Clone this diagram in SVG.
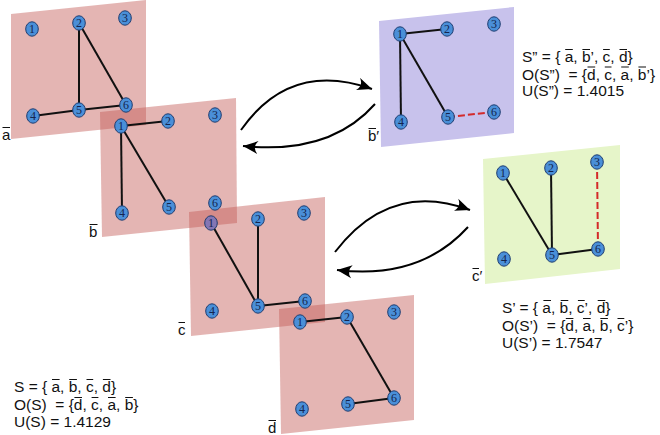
<svg xmlns="http://www.w3.org/2000/svg" width="660" height="435" viewBox="0 0 660 435">
<style>
.pan{fill:rgb(196,92,86);fill-opacity:0.45}
.e{stroke:#111;stroke-width:2;fill:none}
.rd{stroke:#d42a2a;stroke-width:2;stroke-dasharray:7 3;fill:none}
.v ellipse{fill:#4a8fd8;stroke:#1d3c70;stroke-width:1}
.v text{font-family:"Liberation Serif","DejaVu Serif",serif;font-size:12px;fill:#14254f;text-anchor:middle}
.t{font-family:"Liberation Sans",Arial,sans-serif;font-size:15.5px;fill:#111}
.lb{font-family:"Liberation Sans","DejaVu Sans",sans-serif;font-size:15px;fill:#111}
.ol{stroke:#111;stroke-width:1.1;fill:none}
.arr{stroke:#000;stroke-width:2;fill:none;marker-end:url(#ah)}
</style>
<defs>
<marker id="ah" viewBox="-15 -7 16 14" refX="0" refY="0" markerWidth="16" markerHeight="14" orient="auto" markerUnits="userSpaceOnUse">
<path d="M0,0 L-15,-6.5 Q-9,0 -15,6.5 Z" fill="#000"/>
</marker>
</defs>

<g id="panels">
<g id="panel-a"><polygon class="pan" points="11,14 146,0 146,125 11,139"/></g>
<g id="panel-b"><polygon class="pan" points="100,112 236,98 237,223 102,237"/></g>
<g id="panel-c"><polygon class="pan" points="189,212 325,197 325,322 191,336"/></g>
<g id="panel-d"><polygon class="pan" points="279,309 414,295 414,420 281,434"/></g>
<g id="panel-b2"><polygon fill="#c8c2ec" points="379,21 514,7 514,133 381,147"/></g>
<g id="panel-c2"><polygon fill="#e6f5c9" points="483,159 620,145 620,269 485,284"/></g>
</g>

<g id="connectors">
<line class="e" x1="79" y1="23" x2="79" y2="110"/>
<line class="e" x1="79" y1="23" x2="126" y2="105"/>
<line class="e" x1="33" y1="116" x2="79" y2="110"/>
<line class="e" x1="79" y1="110" x2="126" y2="105"/>
<line class="e" x1="121" y1="126" x2="168" y2="121"/>
<line class="e" x1="121" y1="126" x2="122" y2="213"/>
<line class="e" x1="121" y1="126" x2="169" y2="207"/>
<line class="e" x1="211" y1="223" x2="258" y2="306"/>
<line class="e" x1="258" y1="219" x2="258" y2="306"/>
<line class="e" x1="258" y1="306" x2="305" y2="301"/>
<line class="e" x1="300" y1="322" x2="347" y2="317"/>
<line class="e" x1="347" y1="317" x2="394" y2="398"/>
<line class="e" x1="348" y1="404" x2="394" y2="398"/>
<line class="e" x1="400" y1="34" x2="447" y2="29"/>
<line class="e" x1="400" y1="34" x2="401" y2="122"/>
<line class="e" x1="400" y1="34" x2="448" y2="117"/>
<line class="rd" x1="448" y1="117" x2="494" y2="112"/>
<line class="e" x1="503" y1="173" x2="552" y2="255"/>
<line class="e" x1="551" y1="168" x2="552" y2="255"/>
<line class="e" x1="552" y1="255" x2="598" y2="249"/>
<line class="rd" x1="597" y1="162" x2="598" y2="249"/>
<path class="arr" d="M241,130 Q290,60 372,89"/>
<path class="arr" d="M375,104 Q330,155 243,146"/>
<path class="arr" d="M335,252 Q390,180 470,210"/>
<path class="arr" d="M468,227 Q420,280 337,270"/>
</g>

<g id="graph-a">
<g id="a1" class="v"><ellipse cx="32" cy="29" rx="6.3" ry="7.2"/><text x="32" y="33.2">1</text></g>
<g id="a2" class="v"><ellipse cx="79" cy="23" rx="6.3" ry="7.2"/><text x="79" y="27.2">2</text></g>
<g id="a3" class="v"><ellipse cx="125" cy="18" rx="6.3" ry="7.2"/><text x="125" y="22.2">3</text></g>
<g id="a4" class="v"><ellipse cx="33" cy="116" rx="6.3" ry="7.2"/><text x="33" y="120.2">4</text></g>
<g id="a5" class="v"><ellipse cx="79" cy="110" rx="6.3" ry="7.2"/><text x="79" y="114.2">5</text></g>
<g id="a6" class="v"><ellipse cx="126" cy="105" rx="6.3" ry="7.2"/><text x="126" y="109.2">6</text></g>
</g>
<g id="graph-b">
<g id="b1" class="v"><ellipse cx="121" cy="126" rx="6.3" ry="7.2"/><text x="121" y="130.2">1</text></g>
<g id="b2" class="v"><ellipse cx="168" cy="121" rx="6.3" ry="7.2"/><text x="168" y="125.2">2</text></g>
<g id="b3" class="v"><ellipse cx="215" cy="115" rx="6.3" ry="7.2"/><text x="215" y="119.2">3</text></g>
<g id="b4" class="v"><ellipse cx="122" cy="213" rx="6.3" ry="7.2"/><text x="122" y="217.2">4</text></g>
<g id="b5" class="v"><ellipse cx="169" cy="207" rx="6.3" ry="7.2"/><text x="169" y="211.2">5</text></g>
<g id="b6" class="v"><ellipse cx="215" cy="203" rx="6.3" ry="7.2"/><text x="215" y="207.2">6</text></g>
</g>
<g id="graph-c">
<g id="c1" class="v"><ellipse cx="211" cy="223" rx="6.3" ry="7.2" style="fill:#8476b4"/><text x="211" y="227.2">1</text></g>
<g id="c2" class="v"><ellipse cx="258" cy="219" rx="6.3" ry="7.2"/><text x="258" y="223.2">2</text></g>
<g id="c3" class="v"><ellipse cx="304" cy="213" rx="6.3" ry="7.2"/><text x="304" y="217.2">3</text></g>
<g id="c4" class="v"><ellipse cx="212" cy="311" rx="6.3" ry="7.2"/><text x="212" y="315.2">4</text></g>
<g id="c5" class="v"><ellipse cx="258" cy="306" rx="6.3" ry="7.2"/><text x="258" y="310.2">5</text></g>
<g id="c6" class="v"><ellipse cx="305" cy="301" rx="6.3" ry="7.2"/><text x="305" y="305.2">6</text></g>
</g>
<g id="graph-d">
<g id="d1" class="v"><ellipse cx="300" cy="322" rx="6.3" ry="7.2"/><text x="300" y="326.2">1</text></g>
<g id="d2" class="v"><ellipse cx="347" cy="317" rx="6.3" ry="7.2"/><text x="347" y="321.2">2</text></g>
<g id="d3" class="v"><ellipse cx="394" cy="312" rx="6.3" ry="7.2"/><text x="394" y="316.2">3</text></g>
<g id="d4" class="v"><ellipse cx="302" cy="409" rx="6.3" ry="7.2"/><text x="302" y="413.2">4</text></g>
<g id="d5" class="v"><ellipse cx="348" cy="404" rx="6.3" ry="7.2"/><text x="348" y="408.2">5</text></g>
<g id="d6" class="v"><ellipse cx="394" cy="398" rx="6.3" ry="7.2"/><text x="394" y="402.2">6</text></g>
</g>
<g id="graph-b2">
<g id="bp1" class="v"><ellipse cx="400" cy="34" rx="6.3" ry="7.2"/><text x="400" y="38.2">1</text></g>
<g id="bp2" class="v"><ellipse cx="447" cy="29" rx="6.3" ry="7.2"/><text x="447" y="33.2">2</text></g>
<g id="bp3" class="v"><ellipse cx="494" cy="24" rx="6.3" ry="7.2"/><text x="494" y="28.2">3</text></g>
<g id="bp4" class="v"><ellipse cx="401" cy="122" rx="6.3" ry="7.2"/><text x="401" y="126.2">4</text></g>
<g id="bp5" class="v"><ellipse cx="448" cy="117" rx="6.3" ry="7.2"/><text x="448" y="121.2">5</text></g>
<g id="bp6" class="v"><ellipse cx="494" cy="112" rx="6.3" ry="7.2"/><text x="494" y="116.2">6</text></g>
</g>
<g id="graph-c2">
<g id="cp1" class="v"><ellipse cx="503" cy="173" rx="6.3" ry="7.2"/><text x="503" y="177.2">1</text></g>
<g id="cp2" class="v"><ellipse cx="551" cy="168" rx="6.3" ry="7.2"/><text x="551" y="172.2">2</text></g>
<g id="cp3" class="v"><ellipse cx="597" cy="162" rx="6.3" ry="7.2"/><text x="597" y="166.2">3</text></g>
<g id="cp4" class="v"><ellipse cx="504" cy="259" rx="6.3" ry="7.2"/><text x="504" y="263.2">4</text></g>
<g id="cp5" class="v"><ellipse cx="552" cy="255" rx="6.3" ry="7.2"/><text x="552" y="259.2">5</text></g>
<g id="cp6" class="v"><ellipse cx="598" cy="249" rx="6.3" ry="7.2"/><text x="598" y="253.2">6</text></g>
</g>

<g id="labels">
<text class="lb" x="2" y="140">a</text>
<text class="lb" x="89" y="237">b</text>
<text class="lb" x="178" y="335">c</text>
<text class="lb" x="268" y="433">d</text>
<text class="lb" x="368" y="141">b′</text>
<text class="lb" x="472" y="281">c′</text>
<path class="ol" d="M2.5,127.5H10 M89.5,224.5H97.5 M178.5,322.5H185 M268.5,420.5H276 M368.5,128.5H376 M472.5,268.5H479"/>
</g>

<g id="text-s2">
<text class="t" x="522" y="62" xml:space="preserve">S” = { a, b’, c, d}</text>
<text class="t" x="522" y="79.5" xml:space="preserve">O(S”)  = {d, c, a, b’}</text>
<text class="t" x="522" y="96">U(S”) = 1.4015</text>
<path class="ol" d="M565.2,49.5H572.8 M582.4,49.5H590 M603.1,49.5H609.8 M619.5,49.5H627 M587.5,67H595.2 M604.8,67H611.5 M621.2,67H628.8 M638.4,67H646"/>
</g>
<g id="text-s1">
<text class="t" x="502" y="313" xml:space="preserve">S’ = { a, b, c’, d}</text>
<text class="t" x="502" y="331" xml:space="preserve">O(S’)  = {d, a, b, c’}</text>
<text class="t" x="502" y="348">U(S’) = 1.7547</text>
<path class="ol" d="M543.4,300.5H551 M560.7,300.5H568.3 M577.9,300.5H584.7 M597.7,300.5H605.3 M565.8,318.5H573.4 M583,318.5H590.7 M600.3,318.5H607.9 M617.5,318.5H624.3"/>
</g>
<g id="text-s">
<text class="t" x="14" y="392" xml:space="preserve">S = { a, b, c, d}</text>
<text class="t" x="14" y="410" xml:space="preserve">O(S)  = {d, c, a, b}</text>
<text class="t" x="14" y="427">U(S) = 1.4129</text>
<path class="ol" d="M52,379.5H59.6 M69.2,379.5H76.9 M86.5,379.5H93.2 M102.9,379.5H110.5 M74.4,397.5H82 M91.6,397.5H98.4 M108,397.5H115.6 M125.2,397.5H132.9"/>
</g>
</svg>
